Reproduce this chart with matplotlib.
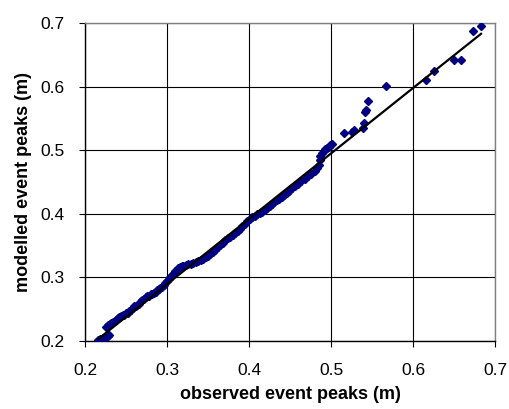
import matplotlib.pyplot as plt

plt.rcParams['font.family'] = ['Liberation Sans', 'DejaVu Sans']

# observed vs modelled event peaks (m)
observed = [
    0.216, 0.218, 0.220, 0.222, 0.224, 0.226, 0.228, 0.229,
    0.226, 0.228, 0.230, 0.232, 0.234, 0.236, 0.238, 0.240, 0.242, 0.244,
    0.246, 0.248, 0.250, 0.252, 0.254, 0.256, 0.258, 0.260, 0.262, 0.264,
    0.266, 0.268, 0.270, 0.272, 0.274, 0.276, 0.278, 0.280, 0.282, 0.284,
    0.286, 0.288, 0.290, 0.292, 0.294, 0.296, 0.298, 0.300, 0.302, 0.304,
    0.306, 0.308, 0.310, 0.312, 0.314, 0.316, 0.318, 0.320, 0.323, 0.326,
    0.329, 0.332, 0.335, 0.338, 0.341, 0.344, 0.347, 0.350, 0.353, 0.356,
    0.359, 0.362, 0.365, 0.368, 0.371, 0.374, 0.377, 0.380, 0.383, 0.386,
    0.389, 0.392, 0.395, 0.398, 0.401, 0.404, 0.407, 0.410, 0.413, 0.416,
    0.419, 0.422, 0.425, 0.428, 0.431, 0.434, 0.437, 0.440, 0.443, 0.446,
    0.449, 0.452, 0.456, 0.460, 0.464, 0.468, 0.472, 0.476, 0.480, 0.483,
    0.485, 0.486, 0.487, 0.489, 0.491, 0.493, 0.495, 0.497, 0.499, 0.501,
    0.516, 0.525, 0.528, 0.539, 0.540, 0.542, 0.543, 0.545, 0.567,
    0.616, 0.625, 0.650, 0.659, 0.673, 0.683,
]
modelled = [
    0.201, 0.202, 0.203, 0.204, 0.205, 0.206, 0.207, 0.209,
    0.222, 0.225, 0.227, 0.228, 0.229, 0.231, 0.233, 0.236, 0.238, 0.239,
    0.240, 0.241, 0.243, 0.244, 0.246, 0.249, 0.252, 0.254, 0.255, 0.256,
    0.258, 0.262, 0.264, 0.266, 0.268, 0.270, 0.271, 0.273, 0.274, 0.275,
    0.277, 0.279, 0.281, 0.283, 0.285, 0.288, 0.291, 0.294, 0.297, 0.300,
    0.303, 0.306, 0.309, 0.312, 0.314, 0.316, 0.317, 0.318, 0.319, 0.320,
    0.321, 0.322, 0.324, 0.326, 0.327, 0.329, 0.331, 0.334, 0.337, 0.340,
    0.343, 0.347, 0.350, 0.354, 0.358, 0.361, 0.363, 0.366, 0.369, 0.372,
    0.376, 0.380, 0.384, 0.388, 0.391, 0.394, 0.397, 0.399, 0.401, 0.403,
    0.406, 0.409, 0.412, 0.415, 0.418, 0.421, 0.423, 0.426, 0.429, 0.432,
    0.436, 0.440, 0.443, 0.446, 0.451, 0.455, 0.459, 0.463, 0.467, 0.471,
    0.477, 0.484, 0.491, 0.495, 0.498, 0.501, 0.503, 0.505, 0.508, 0.510,
    0.527, 0.529, 0.532, 0.534, 0.543, 0.560, 0.563, 0.578, 0.601,
    0.610, 0.624, 0.642, 0.642, 0.688, 0.696,
]

# fitted trend line (end points)
fit_x = [0.216, 0.683]
fit_y = [0.2025, 0.683]

fig = plt.figure(figsize=(5.09, 4.09), dpi=100)
ax = fig.add_axes([0.167, 0.167, 0.8055, 0.7768])

ax.plot(observed, modelled, linestyle='none', marker='D', markersize=3.8,
        color='#000080', zorder=3)
ax.plot(fit_x, fit_y, color='black', linewidth=1.6, zorder=4)

ax.set_xlim(0.2, 0.7)
ax.set_ylim(0.2, 0.7)
ax.set_xticks([0.2, 0.3, 0.4, 0.5, 0.6, 0.7])
ax.set_yticks([0.2, 0.3, 0.4, 0.5, 0.6, 0.7])
ax.set_xticklabels(['0.2', '0.3', '0.4', '0.5', '0.6', '0.7'])
ax.set_yticklabels(['0.2', '0.3', '0.4', '0.5', '0.6', '0.7'])
ax.grid(True, color='black', linewidth=0.8, zorder=1)
ax.set_axisbelow(True)

ax.tick_params(direction='out', length=4, width=0.8, labelsize=12.5)
ax.tick_params(axis='x', pad=12)
ax.tick_params(axis='y', pad=11)
ax.spines['left'].set_color('black')
ax.spines['bottom'].set_color('black')
ax.spines['top'].set_color('#808080')
ax.spines['right'].set_color('#808080')
for s in ax.spines.values():
    s.set_linewidth(1.0)

ax.set_xlabel('observed event peaks (m)', fontsize=13, fontweight='bold', labelpad=6)
ax.set_ylabel('modelled event peaks (m)', fontsize=13, fontweight='bold', labelpad=6)

fig.savefig('out.png', dpi=100)
